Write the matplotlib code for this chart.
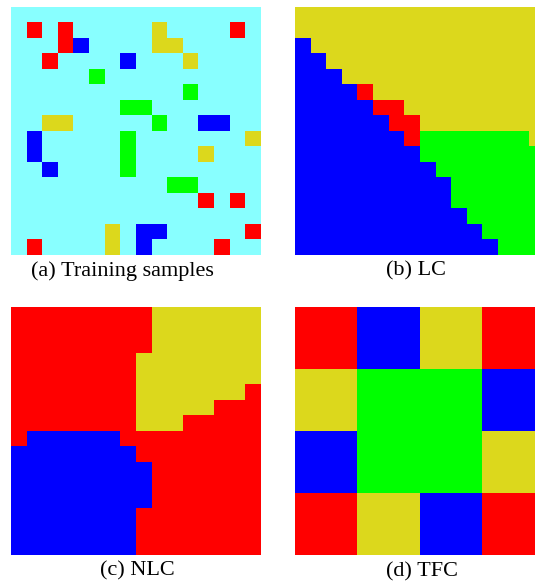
import numpy as np
import matplotlib
matplotlib.use("Agg")
import matplotlib.pyplot as plt
from matplotlib.colors import ListedColormap

# class codes: 0 background, 1 red, 2 blue, 3 green, 4 yellow
class_colors = ["#88FFFF", "#FF0000", "#0000FF", "#00FF00", "#DCD81C"]
captions = ["(a) Training samples", "(b) LC", "(c) NLC", "(d) TFC"]
N = 16

# training samples: (row, col, class)
train_cells = [
    (1, 1, 1), (1, 3, 1), (2, 3, 1), (2, 4, 2), (3, 2, 1),
    (1, 9, 4), (2, 9, 4), (2, 10, 4), (3, 11, 4), (1, 14, 1),
    (3, 7, 2), (4, 5, 3), (5, 11, 3), (6, 7, 3), (6, 8, 3), (7, 9, 3),
    (7, 2, 4), (7, 3, 4), (7, 12, 2), (7, 13, 2), (8, 15, 4),
    (8, 1, 2), (9, 1, 2), (10, 2, 2), (8, 7, 3), (9, 7, 3), (10, 7, 3),
    (9, 12, 4), (11, 10, 3), (11, 11, 3), (12, 12, 1), (12, 14, 1),
    (14, 15, 1), (14, 6, 4), (15, 6, 4), (14, 8, 2), (14, 9, 2), (15, 8, 2),
    (15, 1, 1), (15, 13, 1),
]

# LC: per column, first row of green / blue (yellow above), red cells
lc_green_start = [16, 16, 16, 16, 16, 16, 16, 16, 8, 8, 8, 8, 8, 8, 8, 9]
lc_blue_start = [2, 3, 4, 5, 6, 7, 8, 9, 10, 11, 13, 14, 15, 16, 16, 16]
lc_red = [(5, 4), (6, 5), (6, 6), (7, 6), (7, 7), (8, 7)]

# NLC: yellow extent per row (start col, end col exclusive), blue extent per row
nlc_yellow = {0: (9, 16), 1: (9, 16), 2: (9, 16), 3: (8, 16), 4: (8, 16),
              5: (8, 15), 6: (8, 13), 7: (8, 11)}
nlc_blue = {8: (1, 7), 9: (0, 8), 10: (0, 9), 11: (0, 9), 12: (0, 9),
            13: (0, 8), 14: (0, 8), 15: (0, 8)}

# TFC: 4x4 blocks
tfc_blocks = [[1, 2, 4, 1],
              [4, 3, 3, 2],
              [2, 3, 3, 4],
              [1, 4, 2, 1]]

grid_a = np.zeros((N, N), int)
for r, c, k in train_cells:
    grid_a[r, c] = k

grid_b = np.full((N, N), 4)
for c in range(N):
    grid_b[lc_green_start[c]:, c] = 3
    grid_b[lc_blue_start[c]:, c] = 2
for r, c in lc_red:
    grid_b[r, c] = 1

grid_c = np.ones((N, N), int)
for r, (c0, c1) in nlc_yellow.items():
    grid_c[r, c0:c1] = 4
for r, (c0, c1) in nlc_blue.items():
    grid_c[r, c0:c1] = 2

grid_d = np.kron(np.array(tfc_blocks), np.ones((4, 4), int))

cmap = ListedColormap(class_colors)
fig = plt.figure(figsize=(5.35, 5.84), dpi=100)

W, H = 535, 584
boxes = [(11, 7), (295, 7), (11, 307), (295, 307)]
cap_pos = [(122, 271), (416, 271), (137, 571), (422, 572)]
for grid, (x0, y0), cap, (cx, cy) in zip([grid_a, grid_b, grid_c, grid_d], boxes, captions, cap_pos):
    ax = fig.add_axes([x0 / W, 1 - (y0 + 248) / H, 250 / W, 248 / H])
    ax.imshow(grid, cmap=cmap, vmin=-0.5, vmax=4.5, interpolation="nearest", aspect="auto")
    ax.axis("off")
    fig.text(cx / W, 1 - cy / H, cap, ha="center", va="center",
             fontsize=16, family="Liberation Serif")

fig.savefig("out.png", dpi=100)
